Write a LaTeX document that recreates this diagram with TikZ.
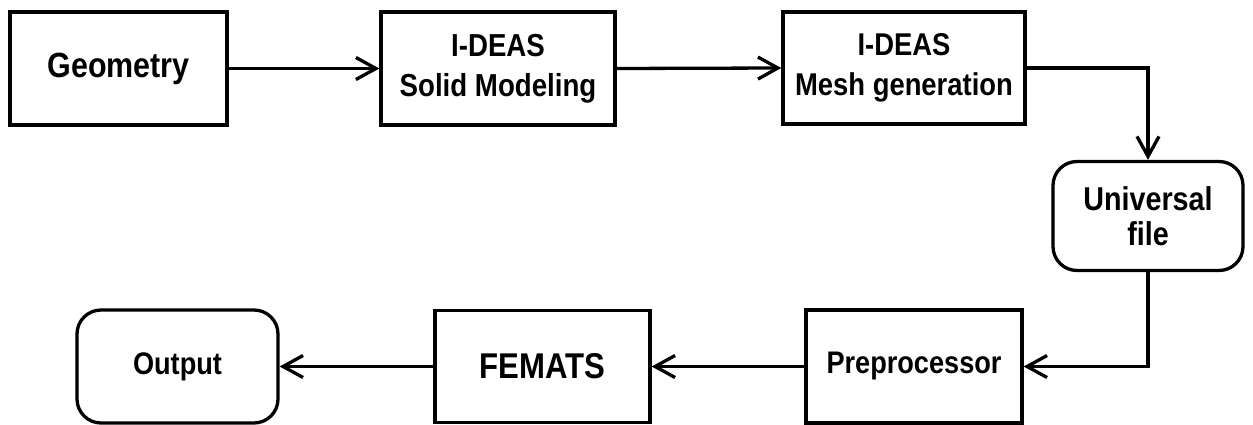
\documentclass[tikz,border=0pt]{standalone}
\usepackage{fontspec}
\setmainfont[FakeStretch=0.87]{Liberation Sans}
\usetikzlibrary{arrows.meta}
\tikzset{
  blk/.style={draw, line width=3.3pt, inner sep=0pt, align=center, font=\bfseries},
  rblk/.style={blk, rounded corners=24pt},
  arr/.style={line width=3.3pt, -{Straight Barb[length=20pt,width=22pt]}},
}
\begin{document}
\begin{tikzpicture}[x=1pt,y=-1pt]
\useasboundingbox (0,0) rectangle (1253,425);
\node[blk, minimum width=217pt, minimum height=113pt, font=\bfseries\fontsize{35}{40}\selectfont] (geom) at (118.5,68.5) {Geometry};
\node[blk, minimum width=234pt, minimum height=113pt, font=\bfseries\fontsize{31.8}{40}\selectfont] (solid) at (498,68.5) {I-DEAS\\Solid Modeling};
\node[blk, minimum width=242pt, minimum height=112pt, font=\bfseries\fontsize{31.5}{40}\selectfont] (mesh) at (904,68) {I-DEAS\\Mesh generation};
\node[rblk, minimum width=190pt, minimum height=109pt, font=\bfseries\fontsize{33}{35}\selectfont] (univ) at (1148,216) {Universal\\file};
\node[blk, minimum width=216pt, minimum height=113pt, font=\bfseries\fontsize{31.2}{35}\selectfont] (prep) at (914,366.5) {Preprocessor};
\node[blk, minimum width=215pt, minimum height=112pt, font=\bfseries\fontsize{35.8}{40}\selectfont] (femats) at (542.5,366.5) {FEMATS};
\node[rblk, minimum width=201pt, minimum height=113pt, font=\bfseries\fontsize{31.2}{35}\selectfont] (out) at (177.5,366.5) {Output};
\draw[arr] (geom.east) -- (solid.west);
\draw[arr] (solid.east) -- (mesh.west);
\draw[arr] (mesh.east) -| (univ.north);
\draw[arr] (univ.south) |- (prep.east);
\draw[arr] (prep.west) -- (femats.east);
\draw[arr] (femats.west) -- (out.east);
\end{tikzpicture}
\end{document}
